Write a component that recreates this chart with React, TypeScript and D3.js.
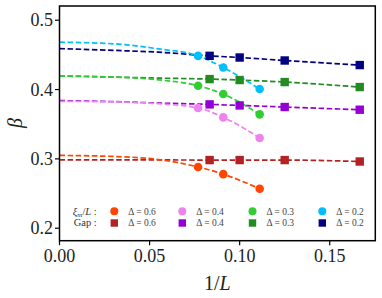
import React from "react";
import * as d3 from "d3";

// system sizes (x = 1/L)
const xiSizes = [13, 11, 9];
const gapSizes = [12, 10, 8, 6];
const deltas = ["0.6", "0.4", "0.3", "0.2"];

// beta from xi_m / L crossings
const xi06 = [0.2883, 0.278, 0.2569];
const xi04 = [0.3734, 0.3599, 0.3302];
const xi03 = [0.4055, 0.3935, 0.3642];
const xi02 = [0.4486, 0.4318, 0.4007];

// beta from gap scaling
const gap06 = [0.2983, 0.2983, 0.2983, 0.2962];
const gap04 = [0.3786, 0.3771, 0.3748, 0.3709];
const gap03 = [0.4151, 0.4137, 0.4108, 0.4036];
const gap02 = [0.4486, 0.4462, 0.4419, 0.4353];

const fitX = [0, 0.03, 0.055];
const xiFit06 = [0.305, 0.3035, 0.299];
const xiFit04 = [0.383, 0.3822, 0.3795];
const xiFit03 = [0.4195, 0.418, 0.414];
const xiFit02 = [0.4683, 0.466, 0.4586];
const gapFit06 = [0.2987, 0.2986, 0.2985];
const gapFit04 = [0.384, 0.3826, 0.3805];
const gapFit03 = [0.4195, 0.418, 0.4165];
const gapFit02 = [0.4591, 0.4565, 0.4539];

const xiColors = ["#FF4500", "#EE82EE", "#32CD32", "#00BFFF"];
const gapColors = ["#B22222", "#9400D3", "#228B22", "#000080"];

const xTicks = [0, 0.05, 0.1, 0.15];
const yTicks = [0.2, 0.3, 0.4, 0.5];

const W = 382;
const H = 298;
const m = { left: 59.5, top: 6, right: 6.7, bottom: 57.3 };

export default function App() {
  const x = d3.scaleLinear().domain([0, 0.1753]).range([m.left, W - m.right]);
  const y = d3.scaleLinear().domain([0.182, 0.5205]).range([H - m.bottom, m.top]);
  const line = d3
    .line<[number, number]>()
    .x((d) => x(d[0]))
    .y((d) => y(d[1]))
    .curve(d3.curveMonotoneX);

  const xiSeries = [xi06, xi04, xi03, xi02];
  const gapSeries = [gap06, gap04, gap03, gap02];
  const xiFits = [xiFit06, xiFit04, xiFit03, xiFit02];
  const gapFits = [gapFit06, gapFit04, gapFit03, gapFit02];

  const pts = (sizes: number[], vals: number[], fit: number[]) => {
    const a: [number, number][] = fitX.map((fx, i) => [fx, fit[i]]);
    const b: [number, number][] = sizes
      .map((L, i) => [1 / L, vals[i]] as [number, number])
      .sort((p, q) => p[0] - q[0]);
    return a.concat(b);
  };

  const font = "'Liberation Serif', 'DejaVu Serif', serif";
  const legCols = [114.3, 182.3, 252.5, 322.3];
  const legRows = [211.3, 223];

  return (
    <svg width={W} height={H} style={{ position: "absolute", left: 0, top: 0 }} fontFamily={font}>
      <rect width={W} height={H} fill="white" />
      {/* fit lines */}
      {gapSeries.map((s, k) => (
        <path key={"gl" + k} d={line(pts(gapSizes, s, gapFits[k])) || ""} fill="none"
          stroke={gapColors[k]} strokeWidth={1.7} strokeDasharray="5.5,2.6" />
      ))}
      {xiSeries.map((s, k) => (
        <path key={"xl" + k} d={line(pts(xiSizes, s, xiFits[k])) || ""} fill="none"
          stroke={xiColors[k]} strokeWidth={1.7} strokeDasharray="5.5,2.6" />
      ))}
      {/* markers */}
      {xiSeries.map((s, k) =>
        s.map((v, i) => (
          <circle key={"xc" + k + i} cx={x(1 / xiSizes[i])} cy={y(v)} r={4.3} fill={xiColors[k]} />
        ))
      )}
      {gapSeries.map((s, k) =>
        s.map((v, i) => (
          <rect key={"gs" + k + i} x={x(1 / gapSizes[i]) - 4.2} y={y(v) - 4.2} width={8.4} height={8.4}
            fill={gapColors[k]} />
        ))
      )}
      {/* frame */}
      <rect x={m.left} y={m.top} width={W - m.left - m.right} height={H - m.top - m.bottom}
        fill="none" stroke="black" strokeWidth={1.5} />
      {/* x axis */}
      {xTicks.map((t) => (
        <g key={"xt" + t}>
          <line x1={x(t)} x2={x(t)} y1={H - m.bottom} y2={H - m.bottom + 4.5} stroke="black" strokeWidth={1.2} />
          <text x={x(t)} y={262} textAnchor="middle" fontSize={18} fill="#222">
            {d3.format(".2f")(t)}
          </text>
        </g>
      ))}
      {yTicks.map((t) => (
        <g key={"yt" + t}>
          <line x1={m.left - 4.5} x2={m.left} y1={y(t)} y2={y(t)} stroke="black" strokeWidth={1.2} />
          <text x={53} y={y(t) + 6} textAnchor="end" fontSize={18} fill="#222">
            {d3.format(".1f")(t)}
          </text>
        </g>
      ))}
      <text x={(m.left + W - m.right) / 2} y={290} textAnchor="middle" fontSize={20} fill="#222">
        1/<tspan fontStyle="italic">L</tspan>
      </text>
      <text transform={`translate(22,123) rotate(-90)`} textAnchor="middle" fontSize={20}
        fontStyle="italic" fill="#222">
        β
      </text>
      {/* legend */}
      <text x={96.7} y={legRows[0] + 3.4} textAnchor="end" fontSize={10.5} fill="#333">
        <tspan fontStyle="italic">ξ</tspan>
        <tspan fontSize={7} fontStyle="italic" dy={2}>m</tspan>
        <tspan dy={-2}>/</tspan>
        <tspan fontStyle="italic">L</tspan> :
      </text>
      <text x={96.7} y={legRows[1] + 3.4} textAnchor="end" fontSize={10.5} fill="#333">
        Gap :
      </text>
      {deltas.map((d, k) => (
        <g key={"lg" + k}>
          <circle cx={legCols[k]} cy={legRows[0]} r={4} fill={xiColors[k]} />
          <rect x={legCols[k] - 3.7} y={legRows[1] - 3.7} width={7.4} height={7.4} fill={gapColors[k]} />
          <text x={legCols[k] + 14} y={legRows[0] + 3.2} fontSize={9.5} fill="#444">
            {"Δ = " + d}
          </text>
          <text x={legCols[k] + 14} y={legRows[1] + 3.2} fontSize={9.5} fill="#444">
            {"Δ = " + d}
          </text>
        </g>
      ))}
    </svg>
  );
}
